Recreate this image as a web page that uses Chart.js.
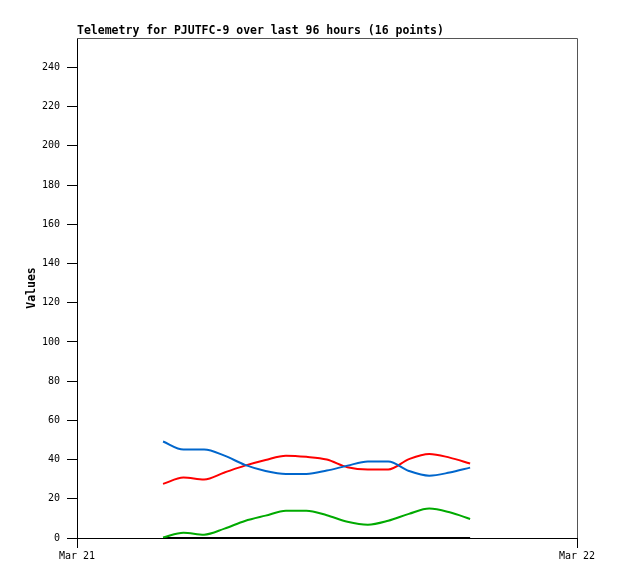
<!DOCTYPE html>
<html>
<head>
<meta charset="utf-8">
<script src="https://cdn.jsdelivr.net/npm/chart.js@4"></script>
<style>
  html, body { margin: 0; padding: 0; background: #fff; }
  #wrap { width: 618px; height: 579px; }
</style>
</head>
<body>
<div id="wrap"><canvas id="telemetry" width="618" height="579"></canvas></div>
<script>
// hours after Mar 21 00:00
const hours = [4.13, 5.11, 6.10, 7.08, 8.06, 9.05, 10.03, 11.01, 11.99, 12.98, 13.96, 14.94, 15.93, 16.91, 17.89, 18.87];
const blueVals  = [49.2, 45.1, 45.1, 42.0, 37.3, 34.2, 32.7, 32.7, 34.4, 36.9, 39.0, 39.0, 34.2, 31.8, 33.4, 35.9];
const redVals   = [27.6, 30.8, 29.8, 33.4, 36.9, 39.8, 42.0, 41.4, 40.0, 36.1, 34.9, 34.9, 40.2, 42.9, 41.0, 38.0];
const greenVals = [0.3, 2.7, 1.7, 4.8, 8.7, 11.4, 13.9, 13.9, 11.6, 8.3, 6.8, 8.8, 12.3, 15.0, 13.1, 9.7];
const blackVals = [0, 0, 0, 0, 0, 0, 0, 0, 0, 0, 0, 0, 0, 0, 0, 0];
const xTicks = [0, 24];
const xTickLabels = ['Mar 21', 'Mar 22'];
const titleText = 'Telemetry for PJUTFC-9 over last 96 hours (16 points)';

(function () {
  'use strict';

  const mono = "'DejaVu Sans Mono', 'Liberation Mono', monospace";

  function series(vals, color) {
    return {
      data: vals.map((v, i) => ({ x: hours[i], y: v })),
      borderColor: color,
      borderWidth: 2,
      pointRadius: 0,
      cubicInterpolationMode: 'monotone',
      fill: false
    };
  }

  const frame = {
    id: 'frame',
    afterDraw(chart) {
      const c = chart.ctx, a = chart.chartArea;
      c.save();
      c.strokeStyle = '#555';
      c.lineWidth = 1;
      c.beginPath();
      c.moveTo(a.left, a.top + 0.5);
      c.lineTo(a.right + 0.5, a.top + 0.5);
      c.lineTo(a.right + 0.5, a.bottom);
      c.stroke();
      c.fillStyle = '#000';
      c.font = 'bold 11.5px ' + mono;
      c.textBaseline = 'alphabetic';
      c.fillText(titleText, a.left, 34);
      c.restore();
    }
  };

  new Chart(document.getElementById('telemetry'), {
    type: 'line',
    data: {
      datasets: [
        series(blueVals, '#0066cc'),
        series(redVals, '#ff0000'),
        series(greenVals, '#00aa00'),
        series(blackVals, '#000000')
      ]
    },
    options: {
      responsive: false,
      animation: false,
      layout: { padding: { top: 38, right: 41, left: 0, bottom: 0 } },
      plugins: { legend: { display: false }, tooltip: { enabled: false }, title: { display: false } },
      scales: {
        x: {
          type: 'linear',
          min: 0,
          max: 24,
          afterBuildTicks: (s) => { s.ticks = xTicks.map(v => ({ value: v })); },
          afterFit: (s) => { s.height = 41; },
          grid: { drawOnChartArea: false, tickLength: 10, color: '#000' },
          border: { color: '#000', width: 1 },
          ticks: {
            autoSkip: false,
            maxRotation: 0,
            padding: 2,
            color: '#000',
            font: { family: mono, size: 10 },
            callback: (v) => xTickLabels[xTicks.indexOf(v)]
          }
        },
        y: {
          min: 0,
          max: 255,
          afterBuildTicks: (s) => { s.ticks = s.ticks.filter(t => t.value % 20 === 0); },
          afterFit: (s) => { s.width = 77; },
          grid: { drawOnChartArea: false, tickLength: 10, color: '#000' },
          border: { color: '#000', width: 1 },
          ticks: {
            stepSize: 20,
            padding: 7,
            color: '#000',
            font: { family: mono, size: 10 }
          },
          title: {
            display: true,
            text: 'Values',
            color: '#000',
            font: { family: mono, size: 11.5, weight: 'bold' },
            padding: { top: 25, bottom: 0 }
          }
        }
      }
    },
    plugins: [frame]
  });
}());
</script>
</body>
</html>
